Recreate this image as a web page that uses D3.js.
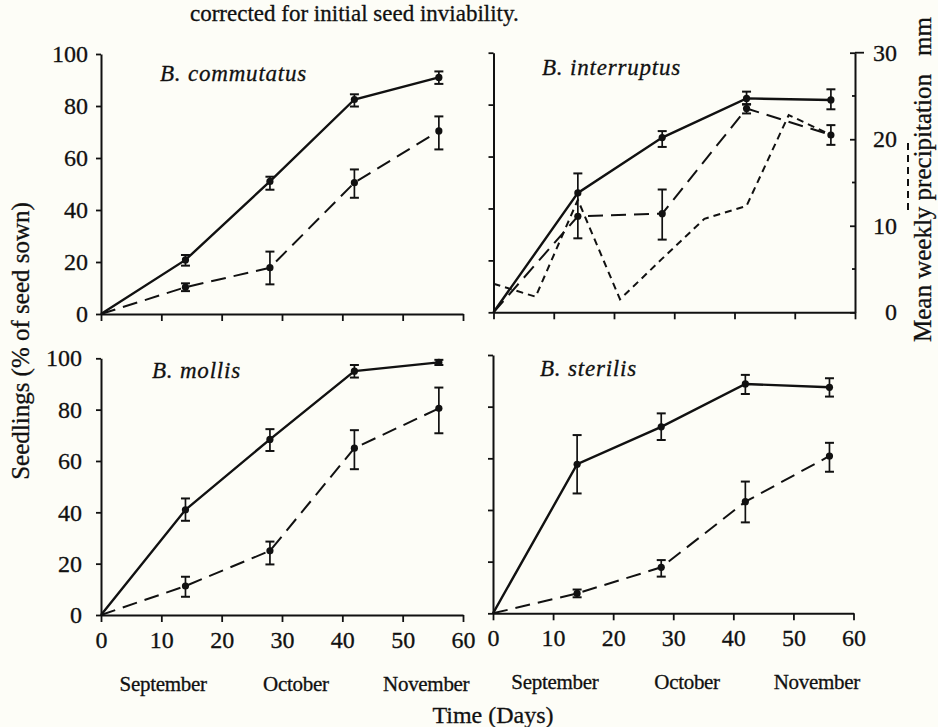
<!DOCTYPE html>
<html>
<head>
<meta charset="utf-8">
<script src="https://cdn.jsdelivr.net/npm/d3@7"></script>
<style>
  html, body { margin: 0; padding: 0; background: #fdfdf7; }
  svg { display: block; }
  text { font-family: "Liberation Serif", "Times New Roman", serif; fill: #111; stroke: #111; stroke-width: 0.3px; }
</style>
</head>
<body>
<svg id="chart" width="938" height="727"></svg>
<script>
// Sampling days after sowing
const days = [0, 14, 28, 42, 56];

// Tick values
const xTicks = [0, 10, 20, 30, 40, 50, 60];
const yTicks = [0, 20, 40, 60, 80, 100];
const precipTicks = [0, 10, 20, 30];
const precipMinorTicks = [5, 15, 25];
const months = ["September", "October", "November"];

const species = ["B. commutatus", "B. interruptus", "B. mollis", "B. sterilis"];

// Cumulative seedlings (% of seed sown); bars are [low, high] of each error bar
const commutatusSolid = [0, 20.8, 51, 82.5, 91];
const commutatusSolidBars = [null, [18.6, 22.7], [47.8, 52.8], [79.8, 84.5], [88.5, 93.3]];
const commutatusDashed = [0, 10.3, 17.8, 50.5, 70.4];
const commutatusDashedBars = [null, [8.8, 11.8], [11.4, 24], [44.7, 55.6], [63.3, 76]];

const interruptusSolid = [0, 46, 67.3, 82.4, 81.8];
const interruptusSolidBars = [null, [28.5, 53.5], [63.7, 69.8], [80, 85], [78.2, 85.9]];
const interruptusDashed = [0, 37, 38, 78.5, 68.3];
const interruptusDashedBars = [null, null, [28, 47.3], [76.6, 80.2], [64.5, 72.1]];

const mollisSolid = [0, 41, 68.4, 95, 98.4];
const mollisSolidBars = [null, [36.7, 45.4], [63.9, 72.4], [92.5, 97.4], [97.4, 99.4]];
const mollisDashed = [0, 11.3, 25, 65, 80.5];
const mollisDashedBars = [null, [7.1, 14.9], [19.7, 28.6], [56.8, 72], [70.8, 88.6]];

const sterilisSolid = [0, 57.7, 72.2, 88.8, 87.5];
const sterilisSolidBars = [null, [46.4, 69], [67.1, 77.4], [84.9, 92.3], [83.9, 91]];
const sterilisDashed = [0, 7.7, 17.8, 43.2, 60.9];
const sterilisDashedBars = [null, [6.2, 9.2], [14.2, 20.6], [35.2, 51], [54.8, 66]];

// Mean weekly precipitation (mm)
const precipDays = [0, 7, 14, 21, 28, 35, 42, 49, 56];
const precipMm = [3.3, 1.8, 13, 1.5, 6.2, 10.8, 12.3, 22.8, 20.5];

const svg = d3.select("#chart");
const ink = "#111";

// Title fragment
svg.append("text")
  .attr("x", 190).attr("y", 21)
  .style("font-size", "23px")
  .text("corrected for initial seed inviability.");

// Panel layout
const panels = [
  { name: species[0], solid: commutatusSolid, solidBars: commutatusSolidBars,
    dashed: commutatusDashed, dashedBars: commutatusDashedBars,
    x0: 101, x1: 463, yTop: 54, yBottom: 314, yLabels: true, yPad: 8, xLabels: false,
    nameX: 160, nameY: 81 },
  { name: species[1], solid: interruptusSolid, solidBars: interruptusSolidBars,
    dashed: interruptusDashed, dashedBars: interruptusDashedBars,
    x0: 493.5, x1: 855, yTop: 52.7, yBottom: 312.3, yLabels: false, xLabels: false,
    nameX: 542, nameY: 75, precip: true },
  { name: species[2], solid: mollisSolid, solidBars: mollisSolidBars,
    dashed: mollisDashed, dashedBars: mollisDashedBars,
    x0: 101, x1: 463, yTop: 358.3, yBottom: 615, yLabels: true, yPad: 14, xLabels: true,
    nameX: 152, nameY: 378 },
  { name: species[3], solid: sterilisSolid, solidBars: sterilisSolidBars,
    dashed: sterilisDashed, dashedBars: sterilisDashedBars,
    x0: 493, x1: 853.5, yTop: 355, yBottom: 613.3, yLabels: false, xLabels: true,
    nameX: 540, nameY: 376 }
];

const monthCentres = [10.3, 32.3, 53.9];

function styleAxis(g) {
  g.attr("font-family", null).attr("font-size", null);
  g.select(".domain").attr("stroke", ink).attr("stroke-width", 2);
  g.selectAll(".tick line").attr("stroke", ink).attr("stroke-width", 1.8);
  g.selectAll(".tick text").attr("fill", ink).style("font-size", "24px");
}

function drawSeries(g, x, y, values, bars, dashed) {
  const pts = days.map((d, i) => [d, values[i]]);
  g.append("path")
    .datum(pts)
    .attr("fill", "none")
    .attr("stroke", ink)
    .attr("stroke-width", dashed ? 2 : 2.4)
    .attr("stroke-dasharray", dashed ? "15,8" : null)
    .attr("d", d3.line().x(p => x(p[0])).y(p => y(p[1])));

  const bg = g.append("g");
  days.forEach((d, i) => {
    const b = bars[i];
    if (!b) return;
    const cx = x(d);
    bg.append("line").attr("x1", cx).attr("x2", cx)
      .attr("y1", y(b[0])).attr("y2", y(b[1]))
      .attr("stroke", ink).attr("stroke-width", 1.7);
    [b[0], b[1]].forEach(v => {
      bg.append("line").attr("x1", cx - 4.5).attr("x2", cx + 4.5)
        .attr("y1", y(v)).attr("y2", y(v))
        .attr("stroke", ink).attr("stroke-width", 2);
    });
  });

  g.selectAll(null)
    .data(pts.slice(1))
    .enter().append("circle")
    .attr("cx", p => x(p[0])).attr("cy", p => y(p[1]))
    .attr("r", 3.6).attr("fill", ink);
}

panels.forEach(p => {
  const x = d3.scaleLinear().domain([0, 60]).range([p.x0, p.x1]);
  const y = d3.scaleLinear().domain([0, 100]).range([p.yBottom, p.yTop]);
  const g = svg.append("g");

  // Left axis
  const yAxis = d3.axisLeft(y).tickValues(yTicks).tickSize(5).tickSizeOuter(0)
    .tickPadding(p.yLabels ? p.yPad : 0);
  if (!p.yLabels) yAxis.tickFormat("");
  const ya = g.append("g").attr("transform", `translate(${p.x0},0)`).call(yAxis);
  styleAxis(ya);

  // Bottom axis
  const xAxis = d3.axisBottom(x).tickValues(xTicks).tickSize(7).tickSizeOuter(0).tickPadding(9);
  if (!p.xLabels) xAxis.tickFormat("");
  const xa = g.append("g").attr("transform", `translate(0,${p.yBottom})`).call(xAxis);
  styleAxis(xa);

  // Month names under the day axis
  if (p.xLabels) {
    g.selectAll(null).data(months).enter().append("text")
      .attr("x", (m, i) => x(monthCentres[i]))
      .attr("y", p.yBottom + 76)
      .attr("text-anchor", "middle")
      .style("font-size", "21px")
      .style("letter-spacing", "-0.3px")
      .text(m => m);
  }

  // Precipitation on the right-hand axis
  if (p.precip) {
    const yp = d3.scaleLinear().domain([0, 30]).range([p.yBottom, p.yTop]);
    const pa = g.append("g").attr("transform", `translate(${p.x1},0)`)
      .call(d3.axisRight(yp).tickValues(precipTicks).tickSize(-5).tickSizeOuter(0).tickPadding(0));
    styleAxis(pa);
    pa.selectAll(".tick text").attr("x", 42).attr("text-anchor", "end");
    pa.selectAll(null).data(precipMinorTicks).enter().append("line")
      .attr("x1", -3).attr("x2", 0)
      .attr("y1", v => yp(v)).attr("y2", v => yp(v))
      .attr("stroke", ink).attr("stroke-width", 1.8);
    pa.append("line").attr("x1", 0).attr("x2", 9)
      .attr("y1", yp(30)).attr("y2", yp(30))
      .attr("stroke", ink).attr("stroke-width", 1.8);

    g.append("path")
      .datum(precipDays.map((d, i) => [d, precipMm[i]]))
      .attr("fill", "none")
      .attr("stroke", ink)
      .attr("stroke-width", 2)
      .attr("stroke-dasharray", "7,5")
      .attr("d", d3.line().x(q => x(q[0])).y(q => yp(q[1])));
  }

  drawSeries(g, x, y, p.dashed, p.dashedBars, true);
  drawSeries(g, x, y, p.solid, p.solidBars, false);

  g.append("text")
    .attr("x", p.nameX).attr("y", p.nameY)
    .style("font-size", "23px")
    .style("font-style", "italic")
    .style("letter-spacing", "0.8px")
    .text(p.name);
});

// Axis titles
svg.append("text")
  .attr("transform", "translate(28.5,341) rotate(-90)")
  .attr("text-anchor", "middle")
  .style("font-size", "25px")
  .text("Seedlings (% of seed sown)");

svg.append("text")
  .attr("transform", "translate(931,342) rotate(-90)")
  .style("font-size", "25px")
  .text("Mean weekly precipitation");

svg.append("text")
  .attr("transform", "translate(931,56) rotate(-90)")
  .style("font-size", "25px")
  .text("mm");

// Key for the precipitation line
svg.append("line")
  .attr("x1", 908).attr("x2", 908)
  .attr("y1", 143).attr("y2", 213)
  .attr("stroke", ink).attr("stroke-width", 2)
  .attr("stroke-dasharray", "7,5");

svg.append("text")
  .attr("x", 493).attr("y", 723)
  .attr("text-anchor", "middle")
  .style("font-size", "24px")
  .text("Time (Days)");
</script>
</body>
</html>
